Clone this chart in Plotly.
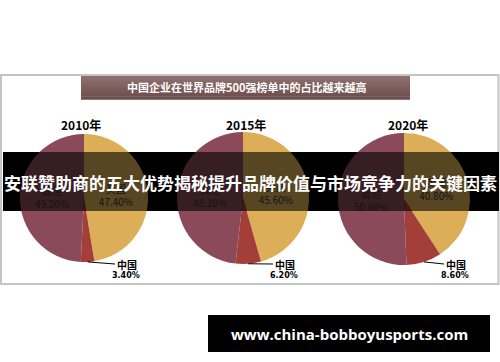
import math
import plotly.graph_objects as go

# ---- data ----
years = ["2010年", "2015年", "2020年"]
labels = ["美国", "中国", "其他"]
us_share = [47.40, 45.60, 40.80]
cn_share = [3.40, 6.20, 8.60]
other_share = [49.20, 48.20, 50.60]
colors = ["#dcae58", "#a33f38", "#8b4a5a"]

title_text = "中国企业在世界品牌500强榜单中的占比越来越高"
banner_text = "安联赞助商的五大优势揭秘提升品牌价值与市场竞争力的关键因素"
url_text = "www.china-bobboyusports.com"

W, H = 500, 362
centers = [(84, 198), (243, 198), (404, 199)]
radii = [64, 66, 66]

CJK = "Noto Sans CJK SC"

fig = go.Figure()

def px(x):
    return x / W

def py(y):
    return 1 - y / H

for i in range(3):
    cx, cy = centers[i]
    r = radii[i]
    vals = [us_share[i], cn_share[i], other_share[i]]
    fig.add_trace(go.Pie(
        values=vals,
        labels=labels,
        sort=False,
        direction="clockwise",
        rotation=0,
        marker=dict(colors=colors, line=dict(width=0)),
        textposition=["inside", "none", "inside"],
        texttemplate="%{label}<br>%{value:.2f}%",
        insidetextorientation="horizontal",
        textfont=dict(family=CJK, size=10, color="#333333"),
        hoverinfo="label+value",
        showlegend=False,
        domain=dict(x=[px(cx - r), px(cx + r)], y=[py(cy + r), py(cy - r)]),
    ))

shapes = []
# outer frame
shapes.append(dict(type="rect", xref="paper", yref="paper",
                   x0=px(1), x1=px(498.5), y0=py(284), y1=py(75),
                   line=dict(color="#c4c4c4", width=2), fillcolor="rgba(0,0,0,0)",
                   layer="below"))
# title bar gradient (strips)
top = (0x8d, 0x70, 0x6e)
bot = (0x6d, 0x4d, 0x4d)
n = 8
y0b, y1b = 76, 99.5
for k in range(n):
    t = k / (n - 1)
    c = tuple(int(top[j] + (bot[j] - top[j]) * t) for j in range(3))
    ya = y0b + (y1b - y0b) * k / n
    yb = y0b + (y1b - y0b) * (k + 1) / n
    shapes.append(dict(type="rect", xref="paper", yref="paper",
                       x0=px(81), x1=px(410), y0=py(yb + 0.3), y1=py(ya),
                       line=dict(width=0), fillcolor="rgb(%d,%d,%d)" % c, layer="below"))
# black band under pies (covers white background)
shapes.append(dict(type="rect", xref="paper", yref="paper",
                   x0=px(3), x1=px(499), y0=py(211), y1=py(152),
                   line=dict(width=0), fillcolor="black", layer="below"))
# translucent band over pies
shapes.append(dict(type="rect", xref="paper", yref="paper",
                   x0=px(3), x1=px(499), y0=py(211), y1=py(152),
                   line=dict(width=0), fillcolor="black", opacity=0.6, layer="above"))
# bottom url box
shapes.append(dict(type="rect", xref="paper", yref="paper",
                   x0=px(208), x1=px(490), y0=py(352), y1=py(315),
                   line=dict(width=0), fillcolor="black", layer="above"))

annotations = []

def txt(text, x, y, size, color, family=CJK):
    return dict(text=text, x=px(x), y=py(y), xref="paper", yref="paper",
                showarrow=False, xanchor="center", yanchor="middle",
                font=dict(family=family, size=size, color=color))

annotations.append(txt("<b>" + title_text + "</b>", 246, 87.5, 11, "white"))
year_x = [81, 246, 408]
for i in range(3):
    annotations.append(txt("<b>" + years[i] + "</b>", year_x[i], 124, 12, "black"))

# China labels with leader lines
label_left = [115, 273, 444]
for i in range(3):
    cx, cy = centers[i]
    r = radii[i]
    total = us_share[i] + cn_share[i] + other_share[i]
    f = (us_share[i] + cn_share[i] / 2) / total
    th = 2 * math.pi * f
    tipx = cx + r * math.sin(th)
    tipy = cy - r * math.cos(th)
    lx, ly = label_left[i], 264
    annotations.append(dict(text="<b>" + labels[1] + "</b>", x=px(tipx), y=py(tipy),
                            xref="paper", yref="paper", showarrow=True,
                            ax=lx - tipx, ay=ly - tipy, xanchor="left", yanchor="middle",
                            arrowhead=0, arrowwidth=1, arrowcolor="black", standoff=0,
                            font=dict(family=CJK, size=10, color="black")))
    annotations.append(txt("<b>%.2f%%</b>" % cn_share[i], lx + 11, 275.5, 8,
                           "black", "DejaVu Sans"))

annotations.append(txt("<b>" + banner_text + "</b>", 250, 182, 17, "white"))
annotations.append(txt("<b>" + url_text + "</b>", 349, 333.5, 15, "white", "Open Sans"))

fig.update_layout(width=W, height=H, margin=dict(l=0, r=0, t=0, b=0),
                  paper_bgcolor="white", plot_bgcolor="white",
                  shapes=shapes, annotations=annotations, showlegend=False)

fig.write_html("out.html")
